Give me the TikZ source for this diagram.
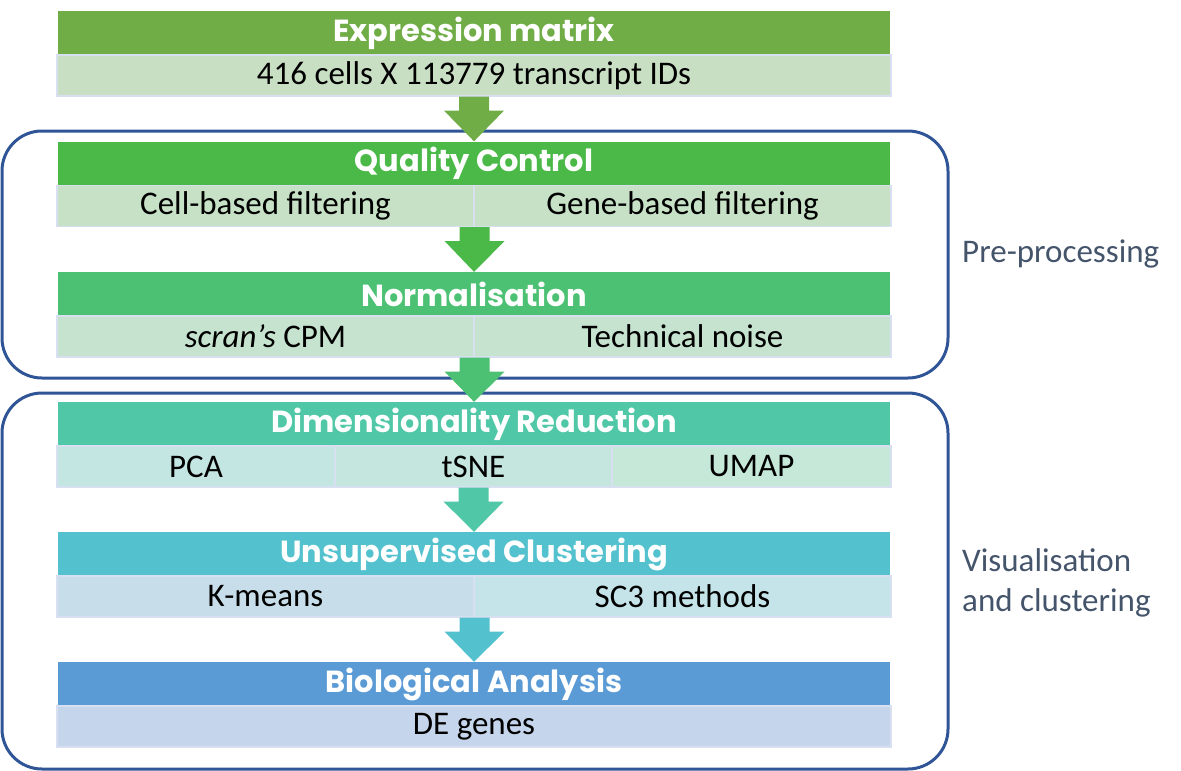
\documentclass[tikz,border=0pt]{standalone}
\usepackage{fontspec}
\setmainfont{Carlito}
\newfontfamily\hfont{Poppins}
\usetikzlibrary{calc}
\definecolor{cExp}{HTML}{70AD47}
\definecolor{cQC}{HTML}{4AB948}
\definecolor{cNorm}{HTML}{4CC173}
\definecolor{cDR}{HTML}{50C7A6}
\definecolor{cUC}{HTML}{54C2CE}
\definecolor{cBA}{HTML}{5B9BD5}
\definecolor{sExp}{HTML}{C9DFC4}
\definecolor{sQC}{HTML}{C6E1C6}
\definecolor{sNorm}{HTML}{C5E3CF}
\definecolor{sDRa}{HTML}{C4E6E3}
\definecolor{sDRb}{HTML}{C4E6DF}
\definecolor{sDRc}{HTML}{C5E8D9}
\definecolor{sUCa}{HTML}{C7DEEA}
\definecolor{sUCb}{HTML}{C4E4EA}
\definecolor{sBA}{HTML}{C5D5EB}
\definecolor{subline}{HTML}{D8DFF0}
\definecolor{grpline}{HTML}{2F5597}
\definecolor{lbl}{HTML}{44546A}
\tikzset{
  hdr/.style={minimum width=832pt, minimum height=44pt, inner sep=0pt, text=white,
    font=\hfont\bfseries\fontsize{30.5}{30.5}\selectfont},
  subcell/.style={minimum height=41pt, inner sep=0pt, draw=subline, line width=1.2pt,
    font=\fontsize{33}{33}\selectfont, text=black},
  grp/.style={draw=grpline, line width=3pt, rounded corners=40pt, inner sep=0pt},
  side/.style={anchor=west, text=lbl, font=\fontsize{33}{40}\selectfont, align=left, inner sep=0pt},
}
\newcommand{\flowarrow}[3]{%
  \fill[#3] ($(#1.south)+(-15,0)$) -- ($(#1.south)+(15,0)$) -- ($(#1.south)+(15,14)$)
    -- ($(#1.south)+(30,14)$) -- (#2.north) -- ($(#1.south)+(-30,14)$)
    -- ($(#1.south)+(-15,14)$) -- cycle;}
\begin{document}
\begin{tikzpicture}[x=1pt,y=-1pt]
\useasboundingbox (0,0) rectangle (1181,771);
% group frames
\node[grp, minimum width=946pt, minimum height=247pt] (g1) at (475,254.5) {};
\node[grp, minimum width=946pt, minimum height=376pt] (g2) at (475,581) {};
\node[side] (l1) at (962,254) {Pre-processing};
\node[side] (l2) at (962,583) {Visualisation\\and clustering};
% Expression matrix
\node[hdr, fill=cExp] (h1) at (474,33) {Expression matrix};
\node[subcell, fill=sExp, minimum width=834pt] (s1) at (474,75.5) {416 cells X 113779 transcript IDs};
% Quality control
\node[hdr, fill=cQC] (h2) at (474,163.5) {Quality Control};
\node[subcell, fill=sQC, minimum width=417pt] (s2a) at (265.5,206) {Cell-based filtering};
\node[subcell, fill=sQC, minimum width=417pt] (s2b) at (682.5,206) {Gene-based filtering};
% Normalisation
\node[hdr, fill=cNorm] (h3) at (474,294) {Normalisation};
\node[subcell, fill=sNorm, minimum width=417pt] (s3a) at (265.5,336.5) {\textit{scran’s} CPM};
\node[subcell, fill=sNorm, minimum width=417pt] (s3b) at (682.5,336.5) {Technical noise};
% Dimensionality reduction
\node[hdr, fill=cDR] (h4) at (474,424) {Dimensionality Reduction};
\node[subcell, fill=sDRa, minimum width=278pt] (s4a) at (196,466.5) {PCA};
\node[subcell, fill=sDRb, minimum width=277pt] (s4b) at (473.5,466.5) {tSNE};
\node[subcell, fill=sDRc, minimum width=279pt] (s4c) at (751.5,466.5) {UMAP};
% Unsupervised clustering
\node[hdr, fill=cUC] (h5) at (474,554) {Unsupervised Clustering};
\node[subcell, fill=sUCa, minimum width=417pt] (s5a) at (265.5,596.5) {K-means};
\node[subcell, fill=sUCb, minimum width=417pt] (s5b) at (682.5,596.5) {SC3 methods};
% Biological analysis
\node[hdr, fill=cBA] (h6) at (474,684) {Biological Analysis};
\node[subcell, fill=sBA, minimum width=834pt] (s6) at (474,726.5) {DE genes};
% anchors for arrows
\coordinate (a2) at (s2a.south east);
\coordinate (a3) at (s3a.south east);
\coordinate (a4) at (s4b.south);
\coordinate (a5) at (s5a.south east);
% arrows
\flowarrow{s1}{h2}{cExp}
\flowarrow{a2}{h3}{cQC}
\flowarrow{a3}{h4}{cNorm}
\flowarrow{a4}{h5}{cDR}
\flowarrow{a5}{h6}{cUC}
\end{tikzpicture}
\end{document}
